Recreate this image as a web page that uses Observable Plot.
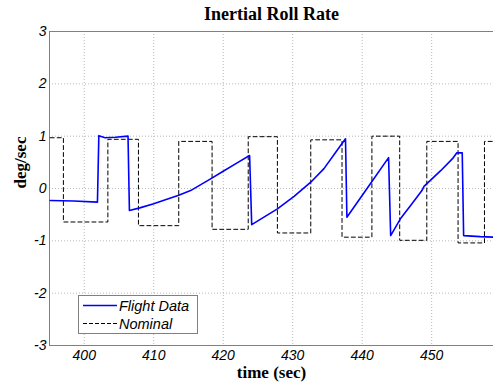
<!DOCTYPE html>
<html>
<head>
<meta charset="utf-8">
<script src="https://cdn.jsdelivr.net/npm/d3@7"></script>
<script src="https://cdn.jsdelivr.net/npm/@observablehq/plot@0.6"></script>
<style>
  html, body { margin: 0; padding: 0; background: #fff; }
  #wrap { position: relative; width: 493px; height: 383px; }
  g[aria-label="x-axis tick label"], g[aria-label="y-axis tick label"] { font-style: italic; }
  #legend { position: absolute; left: 78px; top: 295px; }
</style>
</head>
<body>
<div id="wrap"></div>
<script>
// Nominal (square-wave) command
const nominalTime = [395.1, 397.0, 397.0, 403.4, 403.4, 407.8, 407.8, 413.6, 413.6, 418.4, 418.4, 423.6, 423.6, 427.8, 427.8, 432.6, 432.6, 437.1, 437.1, 441.4, 441.4, 445.4, 445.4, 449.3, 449.3, 453.8, 453.8, 457.6, 457.6, 459.0];
const nominalRate = [0.97, 0.97, -0.64, -0.64, 0.94, 0.94, -0.71, -0.71, 0.90, 0.90, -0.78, -0.78, 0.99, 0.99, -0.85, -0.85, 0.93, 0.93, -0.93, -0.93, 1.00, 1.00, -0.99, -0.99, 0.90, 0.90, -1.04, -1.04, 0.90, 0.90];

// Flight data
const flightTime = [395.1, 398.5, 401.9, 402.1, 403.0, 404.5, 406.3, 406.5, 408.0, 410.0, 412.0, 413.6, 415.3, 418.0, 420.0, 422.0, 423.8, 424.1, 427.8, 430.2, 432.6, 434.5, 436.4, 437.6, 437.8, 440.8, 443.8, 444.1, 445.5, 447.0, 448.6, 448.9, 451.3, 453.0, 453.6, 454.4, 454.6, 457.0, 459.0];
const flightRate = [-0.23, -0.24, -0.26, 1.01, 0.97, 0.98, 1.00, -0.42, -0.37, -0.29, -0.20, -0.13, -0.04, 0.17, 0.33, 0.49, 0.63, -0.69, -0.39, -0.15, 0.12, 0.38, 0.73, 0.95, -0.55, 0.02, 0.59, -0.90, -0.58, -0.32, -0.04, 0.04, 0.34, 0.57, 0.68, 0.68, -0.90, -0.92, -0.93];

const xTicks = [400, 410, 420, 430, 440, 450];
const yTicks = [-3, -2, -1, 0, 1, 2, 3];

const nominal = nominalTime.map((t, i) => ({t, v: nominalRate[i]}));
const flight = flightTime.map((t, i) => ({t, v: flightRate[i]}));

const serif = "'Liberation Serif', 'Times New Roman', serif";

const chart = Plot.plot({
  width: 493,
  height: 383,
  marginLeft: 49,
  marginRight: 0,
  marginTop: 31,
  marginBottom: 38,
  style: { fontFamily: "'Liberation Sans', Arial, sans-serif", fontSize: "14px", background: "#fff", color: "#000" },
  x: { domain: [395, 458.9], label: null },
  y: { domain: [-3, 3], label: null },
  marks: [
    Plot.gridX(xTicks, { stroke: "#b8b8b8", strokeOpacity: 1, strokeDasharray: "1,2" }),
    Plot.gridY(yTicks, { stroke: "#b8b8b8", strokeOpacity: 1, strokeDasharray: "1,2" }),
    Plot.ruleY([-3, 3], { stroke: "#808080", strokeWidth: 1 }),
    Plot.ruleX([395], { stroke: "#808080", strokeWidth: 1 }),
    Plot.axisX({ ticks: xTicks, tickSize: 0, tickPadding: 5, tickFormat: d => String(d), fontStyle: "italic", fontSize: 14, label: null }),
    Plot.axisY({ ticks: yTicks, tickSize: 0, tickPadding: 3, tickFormat: d => String(d), fontStyle: "italic", fontSize: 14, label: null }),
    Plot.line(nominal, { x: "t", y: "v", stroke: "#000", strokeWidth: 1, strokeDasharray: "4,3" }),
    Plot.line(flight, { x: "t", y: "v", stroke: "#0000ff", strokeWidth: 1.6 }),
    Plot.text(["Inertial Roll Rate"], { frameAnchor: "top", lineAnchor: "middle", dy: -17.5, fontFamily: serif, fontWeight: "bold", fontSize: 18 }),
    Plot.text(["time (sec)"], { frameAnchor: "bottom", lineAnchor: "middle", dy: 27, fontFamily: serif, fontWeight: "bold", fontSize: 17 }),
    Plot.text(["deg/sec"], { frameAnchor: "left", lineAnchor: "middle", rotate: -90, dx: -29, fontFamily: serif, fontWeight: "bold", fontSize: 17 })
  ]
});

const wrap = document.getElementById("wrap");
wrap.appendChild(chart);

// Legend
const legendItems = ["Flight Data", "Nominal"];
const legendStroke = ["#0000ff", "#000"];
const legendDash = [null, "4,2"];
const ns = "http://www.w3.org/2000/svg";
const lg = document.createElementNS(ns, "svg");
lg.setAttribute("id", "legend");
lg.setAttribute("width", 120);
lg.setAttribute("height", 39);
const box = document.createElementNS(ns, "rect");
box.setAttribute("x", 0.5); box.setAttribute("y", 0.5);
box.setAttribute("width", 119); box.setAttribute("height", 38);
box.setAttribute("fill", "#fff"); box.setAttribute("stroke", "#808080");
lg.appendChild(box);
legendItems.forEach((name, i) => {
  const cy = 10.5 + i * 18;
  const ln = document.createElementNS(ns, "line");
  ln.setAttribute("x1", 5); ln.setAttribute("x2", 39);
  ln.setAttribute("y1", cy); ln.setAttribute("y2", cy);
  ln.setAttribute("stroke", legendStroke[i]);
  ln.setAttribute("stroke-width", i === 0 ? 1.5 : 1);
  if (legendDash[i]) ln.setAttribute("stroke-dasharray", legendDash[i]);
  lg.appendChild(ln);
  const tx = document.createElementNS(ns, "text");
  tx.setAttribute("x", 41); tx.setAttribute("y", cy + 5);
  tx.setAttribute("font-family", "'Liberation Sans', Arial, sans-serif");
  tx.setAttribute("font-style", "italic");
  tx.setAttribute("font-size", "14.5px");
  tx.textContent = name;
  lg.appendChild(tx);
});
wrap.appendChild(lg);
</script>
</body>
</html>
